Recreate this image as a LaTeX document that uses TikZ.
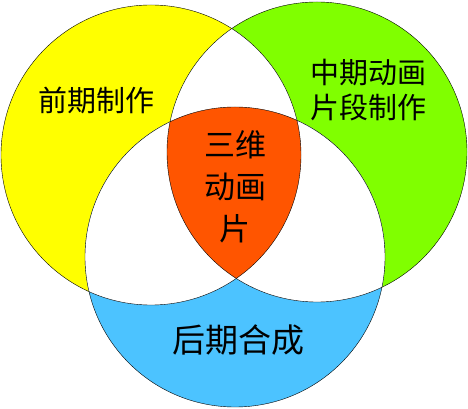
\documentclass[tikz,border=0pt]{standalone}
\usepackage{fontspec}
\setmainfont{Noto Sans CJK SC}
\definecolor{preyellow}{HTML}{FFFF00}
\definecolor{midgreen}{HTML}{80FF00}
\definecolor{postblue}{HTML}{4CC3FF}
\definecolor{corered}{HTML}{FF5500}
\newcommand{\venrad}{150pt}
\tikzset{
  stagetext/.style={font=\fontsize{29}{35}\selectfont, align=center, inner sep=0pt},
  coretext/.style={font=\fontsize{31}{42}\selectfont, align=center, inner sep=0pt},
  posttext/.style={font=\fontsize{33}{40}\selectfont, inner sep=0pt}
}
\begin{document}
\begin{tikzpicture}[x=1pt,y=1pt]
	\useasboundingbox (0,0) rectangle (468,409);
	% centres of the three stages
	\coordinate (pre) at (151,254);
	\coordinate (mid) at (317,257);
	\coordinate (post) at (235,152);
	% colour fills
	\fill[preyellow] (pre) circle (\venrad);
	\fill[midgreen] (mid) circle (\venrad);
	\fill[postblue] (post) circle (\venrad);
	% pairwise overlaps in white
	\begin{scope}
		\clip (pre) circle (\venrad);
		\fill[white] (mid) circle (\venrad);
		\fill[white] (post) circle (\venrad);
	\end{scope}
	\begin{scope}
		\clip (mid) circle (\venrad);
		\fill[white] (post) circle (\venrad);
	\end{scope}
	% common part
	\begin{scope}
		\clip (pre) circle (\venrad);
		\clip (mid) circle (\venrad);
		\fill[corered] (post) circle (\venrad);
	\end{scope}
	% outlines
	\draw[thin] (pre) circle (\venrad);
	\draw[thin] (mid) circle (\venrad);
	\draw[thin] (post) circle (\venrad);
	% labels
	\node[stagetext] (pretext) at (96,309) {前期制作};
	\node[stagetext] (midtext) at (368,319) {中期动画\\片段制作};
	\node[coretext] (coretxt) at (235,222) {三维\\动画\\片};
	\node[posttext] (posttxt) at (238,69) {后期合成};
\end{tikzpicture}
\end{document}
